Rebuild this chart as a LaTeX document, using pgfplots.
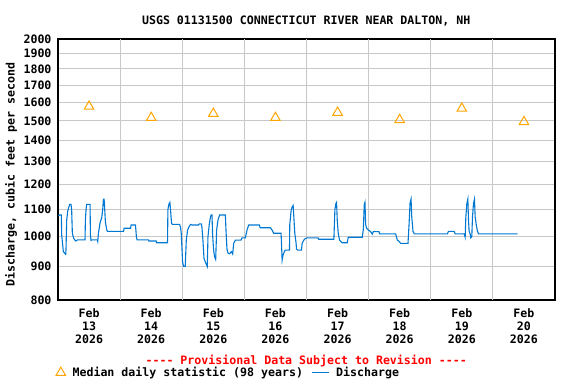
\documentclass[border=0pt]{standalone}
\usepackage{pgfplots}
\pgfplotsset{compat=1.18}
\usepackage{fontspec}
\newfontfamily\monofont{DejaVu Sans Mono}
\newcommand\cf{\monofont\bfseries\fontsize{11.6bp}{13.3bp}\selectfont}
\definecolor{qblue}{RGB}{0,120,210}
\definecolor{qorange}{RGB}{255,165,0}
\definecolor{qgrid}{RGB}{200,200,200}
\begin{document}
\begin{tikzpicture}
\path[use as bounding box] (-58bp,-84bp) rectangle (518bp,300bp);
\begin{axis}[
  at={(0,0)}, anchor=south west,
  scale only axis, width=497bp, height=261bp,
  xmin=0, xmax=8, ymin=800, ymax=2000, ymode=log,
  axis line style={line width=1.4bp, black},
  major tick length=0pt, minor tick length=0pt,
  xtick={0.5,1.5,2.5,3.5,4.5,5.5,6.5,7.5},
  xticklabels={{Feb\\13\\2026},{Feb\\14\\2026},{Feb\\15\\2026},{Feb\\16\\2026},{Feb\\17\\2026},{Feb\\18\\2026},{Feb\\19\\2026},{Feb\\20\\2026}},
  xticklabel style={align=center, font=\cf, yshift=-5bp},
  extra x ticks={1,2,3,4,5,6,7},
  extra x tick labels={},
  extra x tick style={grid=major, major tick length=0pt},
  ytick={800,900,1000,1100,1200,1300,1400,1500,1600,1700,1800,1900,2000},
  yticklabels={800,900,1000,1100,1200,1300,1400,1500,1600,1700,1800,1900,2000},
  minor ytick={}, yminorgrids=false,
  ymajorgrids=true,
  yticklabel style={font=\cf, xshift=-3bp},
  grid style={line width=1bp, qgrid},
  /pgf/number format/assume math mode=true,
  title={USGS 01131500 CONNECTICUT RIVER NEAR DALTON, NH},
  title style={at={(axis description cs:0.4994,1)}, anchor=center, yshift=12bp, font=\cf},
  ylabel={Discharge, cubic feet per second},
  ylabel style={at={(axis description cs:-0.0942,0.481)}, anchor=center, font=\cf},
  legend style={at={(axis description cs:-0.0043,-0.2785)}, anchor=west, draw=none, fill=none, inner sep=0pt, font=\cf, /tikz/every even column/.append style={column sep=6bp}, /tikz/every odd column/.append style={column sep=5bp}},
  legend columns=-1,
  clip=false,
]
\addplot[only marks, mark=triangle, mark size=5.5bp, color=qorange, mark options={line width=1bp}] coordinates {
(0.5,1578) (1.5,1517) (2.5,1539) (3.5,1517) (4.5,1545) (5.5,1506) (6.5,1567) (7.5,1495)
};
\addlegendentry{Median daily statistic (98 years)}
\addplot[color=qblue, line width=1.1bp, mark=none] coordinates {
(0.005,1075) (0.027,1078) (0.054,1078) (0.059,1006) (0.086,948) (0.124,939) (0.129,956) (0.140,1059) (0.156,1092) (0.172,1106) (0.188,1119) (0.210,1119) (0.220,1096) (0.231,1011) (0.253,993) (0.285,984) (0.317,988) (0.435,988) (0.441,1059) (0.452,1100) (0.462,1119) (0.516,1119) (0.522,1004) (0.532,986) (0.543,988) (0.634,988) (0.640,983) (0.651,1011) (0.677,1049) (0.704,1068) (0.720,1100) (0.731,1140) (0.742,1140) (0.747,1122) (0.763,1052) (0.785,1023) (0.796,1018) (1.054,1018) (1.065,1029) (1.167,1029) (1.177,1041) (1.247,1041) (1.263,997) (1.274,988) (1.457,988) (1.462,984) (1.581,984) (1.586,978) (1.763,978) (1.769,1098) (1.785,1120) (1.801,1127) (1.812,1096) (1.828,1046) (1.844,1043) (1.957,1043) (1.973,1033) (1.984,1011) (2.005,915) (2.021,900) (2.048,900) (2.065,987) (2.086,1023) (2.113,1036) (2.134,1043) (2.156,1041) (2.263,1041) (2.274,1045) (2.306,1045) (2.317,1033) (2.333,987) (2.350,926) (2.382,909) (2.403,900) (2.414,999) (2.435,1043) (2.457,1074) (2.468,1078) (2.479,1078) (2.489,1004) (2.505,953) (2.522,930) (2.538,922) (2.554,1023) (2.575,1059) (2.602,1078) (2.694,1078) (2.704,1023) (2.720,956) (2.737,943) (2.763,941) (2.790,948) (2.812,940) (2.828,976) (2.855,987) (2.946,987) (2.962,995) (3.016,995) (3.043,1023) (3.070,1041) (3.242,1041) (3.253,1031) (3.419,1031) (3.446,1023) (3.473,1011) (3.591,1011) (3.608,920) (3.624,938) (3.650,951) (3.661,953) (3.726,953) (3.731,1043) (3.753,1096) (3.769,1109) (3.785,1115) (3.796,1071) (3.812,1011) (3.833,976) (3.839,956) (3.866,953) (3.919,953) (3.930,976) (3.957,987) (3.984,993) (4.011,995) (4.188,995) (4.199,990) (4.441,990) (4.457,1098) (4.473,1122) (4.484,1127) (4.495,1059) (4.511,1011) (4.532,987) (4.575,978) (4.656,978) (4.672,997) (4.898,997) (4.914,1023) (4.930,1117) (4.941,1127) (4.952,1043) (4.968,1029) (4.995,1023) (5.032,1017) (5.059,1008) (5.075,1017) (5.167,1017) (5.177,1009) (5.435,1009) (5.462,987) (5.489,983) (5.516,976) (5.634,976) (5.651,1043) (5.667,1125) (5.683,1140) (5.694,1071) (5.715,1017) (5.737,1009) (6.269,1009) (6.285,1018) (6.376,1018) (6.392,1009) (6.538,1009) (6.554,997) (6.565,1071) (6.581,1122) (6.597,1140) (6.608,1059) (6.618,1018) (6.634,1009) (6.645,995) (6.661,999) (6.672,1071) (6.688,1122) (6.704,1140) (6.715,1071) (6.737,1036) (6.753,1018) (6.769,1009) (7.398,1009)
};
\addlegendentry{Discharge}
\node[font=\cf, text=red, anchor=center] at (axis description cs:0.4994,-0.2337) {-{}-{}-{}- Provisional Data Subject to Revision -{}-{}-{}-};
\end{axis}
\end{tikzpicture}
\end{document}
